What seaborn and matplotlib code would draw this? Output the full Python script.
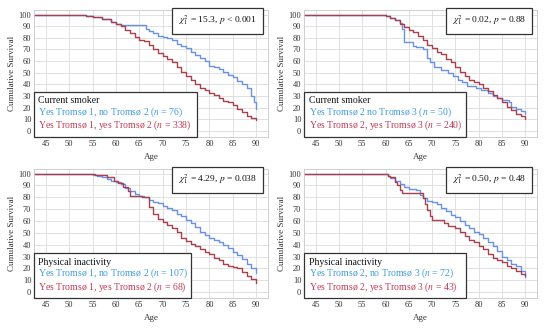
import pandas as pd
import seaborn as sns
import matplotlib.pyplot as plt

# survival curves (age, cumulative survival %)
# panel 1: current smoker, Tromso 1 -> Tromso 2
p1_blue_age = [42.5, 53.5, 55, 57, 59, 60, 61, 66.5, 67, 68, 69, 70, 71, 72, 73, 74, 75, 76, 77, 78,
               79, 80, 81, 82, 83, 84, 85, 86, 87, 88, 89, 89.5, 90]
p1_blue_surv = [100, 99, 98, 96, 94, 92, 91, 88, 86, 84, 82, 81, 80, 78, 75, 73, 71, 68, 65, 63,
                60, 56, 55, 53, 51, 48, 46, 43, 40, 37, 30, 25, 19]
p1_red_age = [42.5, 53.5, 55, 57, 59, 60, 61, 62, 63, 64, 65, 66, 67, 68, 69, 70, 71, 72, 73, 74,
              75, 76, 77, 78, 79, 80, 81, 82, 83, 84, 85, 86, 87, 88, 89, 90]
p1_red_surv = [100, 99, 98, 96, 94, 92, 90, 87, 84, 81, 78, 77, 74, 70, 67, 64, 62, 59, 55, 51,
               47, 44, 40, 37, 35, 33, 31, 28, 26, 24.5, 22, 19, 16, 13, 11.5, 9.5]

# panel 2: current smoker, Tromso 2 -> Tromso 3
p2_blue_age = [42.5, 60, 61, 62, 63, 63.5, 64, 66, 66.5, 68, 69, 69.5, 70.5, 72, 73.5, 74.5, 75.5,
               76.5, 77.5, 79.5, 80.5, 82, 83, 84, 85, 86.5, 87, 88, 89, 90]
p2_blue_surv = [100, 99, 97, 95, 93, 88, 76, 73, 72, 70, 63, 59, 55, 52, 50, 47, 44, 42, 39, 37,
                35, 33, 30, 28, 27, 25, 21, 19, 17, 15]
p2_red_age = [42.5, 60, 61, 62, 63, 64, 65, 66, 67, 68, 69, 70, 71, 72, 73, 74, 75, 76, 77, 78,
              79, 80, 81, 82, 83, 84, 85, 86, 87, 88, 89, 90]
p2_red_surv = [100, 99, 97, 95, 92, 89, 87, 85, 82, 78, 74, 71, 68, 66, 62, 59, 55, 51, 47, 44,
               42, 40, 37, 34, 31, 28, 25, 21, 18, 15, 12.5, 10.5]

# panel 3: physical inactivity, Tromso 1 -> Tromso 2
p3_blue_age = [42.5, 55, 56, 57, 58, 59, 60, 61, 62, 63, 64, 65, 66, 67, 68, 69, 70, 71, 72, 73,
               74, 75, 76, 77, 78, 79, 80, 81, 82, 83, 84, 85, 86, 87, 88, 89, 90]
p3_blue_surv = [100, 99, 98, 97, 95.5, 94, 93, 91, 88, 85, 83, 81, 80, 78, 76, 75, 73, 71, 69, 66,
                64, 61, 58, 55, 51, 48, 46, 44, 42, 40, 37, 34, 31, 28, 24, 20, 16]
p3_red_age = [42.5, 55.5, 58, 59.5, 60.5, 61.5, 62.5, 63, 65.5, 67, 68, 69, 70, 71, 72, 73, 74, 75,
              76, 77, 78, 79, 80, 81, 82, 83, 84, 85, 86, 87, 88, 89, 90]
p3_red_surv = [100, 99, 97, 94, 92, 89, 85, 81, 80, 72, 66, 62, 59, 57, 54, 51, 46, 43, 41, 39,
               36, 34, 32, 29, 27, 24, 22, 21, 20, 17, 14, 11, 8]

# panel 4: physical inactivity, Tromso 2 -> Tromso 3
p4_blue_age = [42.5, 60.5, 61, 62, 63, 64, 65, 66.5, 67.5, 68, 69, 70, 71, 72, 73, 74, 75, 76, 77,
               78, 79, 80, 81, 82, 83, 84, 85, 86, 87, 88, 89, 90]
p4_blue_surv = [100, 98, 96, 94, 91, 89, 87, 86, 82, 79, 77, 76, 74, 71, 68, 65, 63, 60, 57,
                54, 51, 49, 46, 42, 39, 35, 30, 27, 24, 22, 18, 13]
p4_red_age = [42.5, 60.5, 61, 62, 62.5, 63, 63.5, 67.5, 68, 68.5, 69, 69.5, 70, 72.5, 73.5, 75, 76,
              77, 78, 79, 80, 81, 82, 83, 84, 85, 86, 87, 88, 89, 90]
p4_red_surv = [100, 98, 97, 93, 90, 86, 84, 84, 79, 74, 69, 64, 61, 58, 56, 54, 51,
               47, 44, 42, 39, 36, 32, 29, 27, 25, 22, 20, 18, 15, 13.5]

titles = ['Current smoker', 'Current smoker', 'Physical inactivity', 'Physical inactivity']
blue_labels = ['Yes Tromsø 1, no Tromsø 2 ($n$ = 76)', 'Yes Tromsø 2 no Tromsø 3 ($n$ = 50)',
               'Yes Tromsø 1, no Tromsø 2 ($n$ = 107)', 'Yes Tromsø 2, no Tromsø 3 ($n$ = 72)']
red_labels = ['Yes Tromsø 1, yes Tromsø 2 ($n$ = 338)', 'Yes Tromsø 2, yes Tromsø 3 ($n$ = 240)',
              'Yes Tromsø 1, yes Tromsø 2 ($n$ = 68)', 'Yes Tromsø 2, yes Tromsø 3 ($n$ = 43)']
chi_texts = [r'$\chi^2_1$ = 15.3, $p$ < 0.001', r'$\chi^2_1$ = 0.02, $p$ = 0.88',
             r'$\chi^2_1$ = 4.29, $p$ = 0.038', r'$\chi^2_1$ = 0.50, $p$ = 0.48']

curves = [(p1_blue_age, p1_blue_surv, p1_red_age, p1_red_surv),
          (p2_blue_age, p2_blue_surv, p2_red_age, p2_red_surv),
          (p3_blue_age, p3_blue_surv, p3_red_age, p3_red_surv),
          (p4_blue_age, p4_blue_surv, p4_red_age, p4_red_surv)]

BLUE = '#6a92e4'
RED = '#a8404e'
BLUE_TXT = '#3f9be3'
RED_TXT = '#c23a55'

sns.set_theme(style='whitegrid')
plt.rcParams['font.family'] = ['Liberation Serif', 'DejaVu Serif']
plt.rcParams['mathtext.fontset'] = 'stix'

fig = plt.figure(figsize=(5.5, 3.29), dpi=100)
positions = [[0.062, 0.584, 0.425, 0.386], [0.553, 0.584, 0.423, 0.386],
             [0.062, 0.094, 0.425, 0.393], [0.553, 0.094, 0.423, 0.393]]
leg_widths = [0.695, 0.695, 0.67, 0.695]

for i in range(4):
    ax = fig.add_axes(positions[i])
    ba, bs, ra, rs = curves[i]
    df = pd.concat([
        pd.DataFrame({'Age': ba, 'surv': bs, 'grp': blue_labels[i]}),
        pd.DataFrame({'Age': ra, 'surv': rs, 'grp': red_labels[i]}),
    ])
    sns.lineplot(data=df, x='Age', y='surv', hue='grp', estimator=None,
                 palette={blue_labels[i]: BLUE, red_labels[i]: RED},
                 drawstyle='steps-post', linewidth=1.0, ax=ax, legend=False)

    ax.set_xlim(42.5, 92.5)
    ax.set_ylim(-5, 104)
    ax.set_xticks(range(45, 91, 5))
    ax.set_yticks(range(0, 101, 10))
    ax.tick_params(labelsize=6, colors='#333333', pad=2, length=0)
    ax.grid(color='#dcdcdc', linewidth=0.6)
    for s in ax.spines.values():
        s.set_color('#c8c8c8')
        s.set_linewidth(0.6)
    ax.set_xlabel('Age', fontsize=6.5, color='#333333', labelpad=4)
    ax.set_ylabel('Cumulative Survival', fontsize=6.5, color='#333333', labelpad=2)

    # legend box in lower left corner
    h_title = plt.Line2D([], [], color='none')
    h_blue = plt.Line2D([], [], color=BLUE_TXT)
    h_red = plt.Line2D([], [], color=RED_TXT)
    leg = ax.legend([h_title, h_blue, h_red], [titles[i], blue_labels[i], red_labels[i]],
                    loc='lower left', bbox_to_anchor=(0, 0, leg_widths[i], 0.3),
                    mode='expand', borderaxespad=0,
                    handlelength=0, handletextpad=0, fontsize=7, labelspacing=0.0,
                    fancybox=False, framealpha=1, edgecolor='#333333',
                    borderpad=0.45)
    leg.get_frame().set_linewidth(0.9)
    txts = leg.get_texts()
    txts[0].set_color('#111111')
    txts[1].set_color(BLUE_TXT)
    txts[2].set_color(RED_TXT)

    ax.text(0.955, 0.97, chi_texts[i], transform=ax.transAxes, ha='right', va='top',
            fontsize=6.8, color='#111111', zorder=5, clip_on=False,
            bbox=dict(boxstyle='square,pad=0.65', facecolor='white', edgecolor='#333333',
                      linewidth=0.9))

plt.savefig('out.png', dpi=100)
